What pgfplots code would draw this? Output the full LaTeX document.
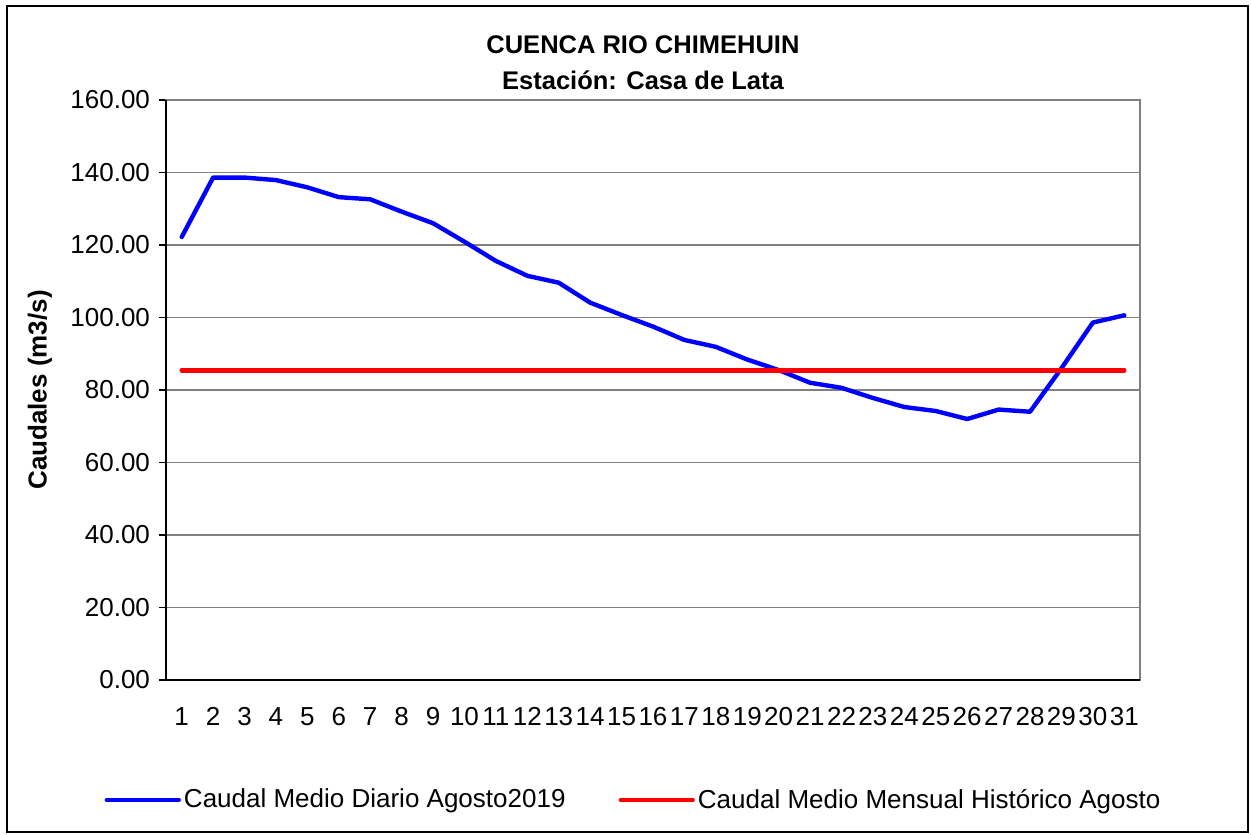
\documentclass[border=0pt]{standalone}
\usepackage{pgfplots}
\pgfplotsset{compat=1.18}
\usepackage{fontspec}
\setmainfont{Liberation Sans}
\definecolor{gridgray}{RGB}{128,128,128}
\begin{document}
\begin{tikzpicture}
\useasboundingbox (-83pt,-77pt) rectangle (542.5pt,340pt);
\draw[black, line width=0.6pt] (-79.5pt,-76pt) rectangle (541pt,337pt);
\begin{axis}[
  at={(0,0)}, anchor=south west,
  width=487pt, height=290pt, scale only axis,
  xmin=0.5, xmax=31.5, ymin=0, ymax=160,
  xtick pos=bottom, ytick pos=left,
  xtick={1,...,31},
  xtick style={draw=none},
  minor xtick={0.5,1.5,...,31.5},
  minor tick length=3.5pt,
  minor x tick style={black, line width=0.6pt},
  ytick={0,20,...,160},
  major tick length=3.5pt,
  tick align=outside,
  ytick style={black, line width=0.6pt},
  ymajorgrids, grid style={gridgray, line width=0.7pt},
  axis line style={gridgray, line width=0.7pt},
  /pgf/number format/assume math mode=true,
  every tick label/.append style={font=\fontsize{13}{15}\selectfont},
  xticklabel style={yshift=-9pt, inner sep=1pt},
  yticklabel style={xshift=-1pt, /pgf/number format/.cd, fixed, fixed zerofill, precision=2},
  legend columns=2,
  legend style={at={(0.4805,-0.2069)}, anchor=center, draw=none, fill=none,
    font=\fontsize{13}{15}\selectfont,
    nodes={inner sep=1.5pt},
    /tikz/every even column/.append style={column sep=25pt}},
  legend image code/.code={\draw[#1] (0pt,0pt) -- (36pt,0pt);},
  clip=false,
]
\addplot[blue, line width=2.2pt, line join=round, line cap=round] coordinates {
(1,122.2) (2,138.6) (3,138.6) (4,137.9) (5,135.9) (6,133.2) (7,132.6) (8,129.2)
(9,126.0) (10,120.9) (11,115.6) (12,111.5) (13,109.6) (14,104.1) (15,100.7)
(16,97.5) (17,93.8) (18,91.9) (19,88.4) (20,85.5) (21,82.0) (22,80.6) (23,77.8)
(24,75.3) (25,74.2) (26,72.0) (27,74.6) (28,74.0) (29,86.0) (30,98.6) (31,100.6)
};
\addlegendentry{Caudal Medio Diario Agosto2019}
\addplot[red, line width=2.2pt, line cap=round] coordinates {
(1,85.4) (2,85.4) (3,85.4) (4,85.4) (5,85.4) (6,85.4) (7,85.4) (8,85.4)
(9,85.4) (10,85.4) (11,85.4) (12,85.4) (13,85.4) (14,85.4) (15,85.4)
(16,85.4) (17,85.4) (18,85.4) (19,85.4) (20,85.4) (21,85.4) (22,85.4) (23,85.4)
(24,85.4) (25,85.4) (26,85.4) (27,85.4) (28,85.4) (29,85.4) (30,85.4) (31,85.4)
};
\addlegendentry{Caudal Medio Mensual Histórico Agosto}
\draw[black, line width=0.7pt] (rel axis cs:0,1) -- (rel axis cs:0,0) -- (rel axis cs:1,0);
\node[font=\bfseries\fontsize{12.75}{15}\selectfont] at ([yshift=27.5pt]rel axis cs:0.4897,1) {CUENCA RIO CHIMEHUIN};
\node[font=\bfseries\fontsize{12.75}{15}\selectfont] at ([yshift=10pt]rel axis cs:0.4897,1) {Estación: Casa de Lata};
\node[font=\bfseries\fontsize{13}{15}\selectfont, rotate=90] at ([xshift=-63pt]rel axis cs:0,0.5) {Caudales (m3/s)};
\end{axis}
\end{tikzpicture}
\end{document}
